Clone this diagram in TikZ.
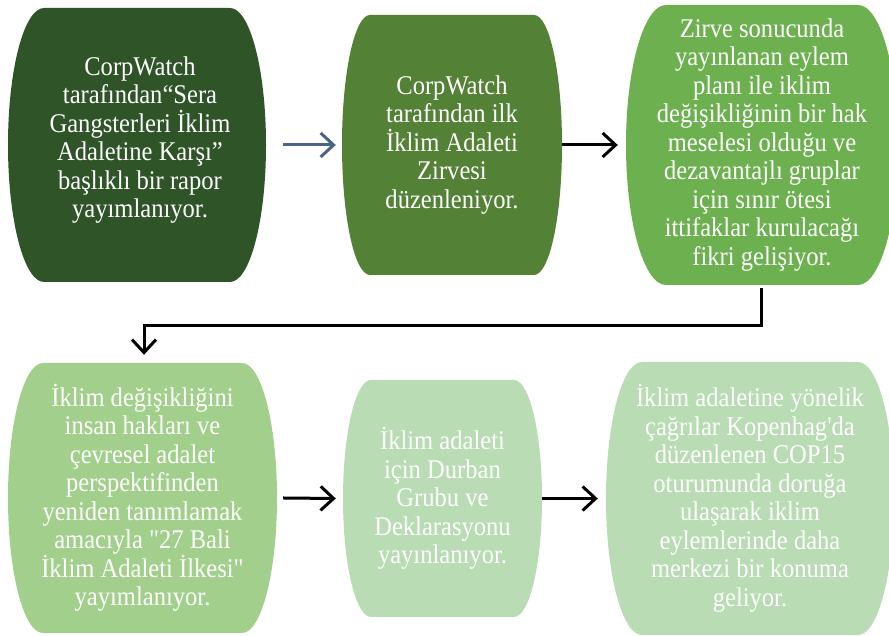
\documentclass[tikz,border=0pt]{standalone}
\usepackage{fontspec}
\newfontfamily\boxfont{Liberation Serif}[FakeStretch=0.91]
\usetikzlibrary{arrows.meta}
\definecolor{gA}{HTML}{2F5428}
\definecolor{gB}{HTML}{538135}
\definecolor{gC}{HTML}{6DB04F}
\definecolor{gD}{HTML}{A2D08C}
\definecolor{gE}{HTML}{B9DCB4}
\definecolor{slate}{HTML}{4C6388}
\newcommand\blobfill[6]{%
  \fill[#6] ({#1-#3/2+#5},{#2+#4/2}) -- ({#1+#3/2-#5},{#2+#4/2})
    arc[start angle=90, end angle=-90, x radius=#5pt, y radius=#4*0.5pt]
    -- ({#1-#3/2+#5},{#2-#4/2})
    arc[start angle=270, end angle=90, x radius=#5pt, y radius=#4*0.5pt]
    -- cycle;}
\tikzset{
  txt/.style={font=\boxfont\fontsize{27}{28.5}\selectfont, text=white, align=center, inner sep=0pt},
  arr/.style={line width=3pt, -{Straight Barb[length=13pt,width=24pt]}},
}
\begin{document}
\begin{tikzpicture}[x=1pt,y=1pt]
\useasboundingbox (0,0) rectangle (889,636);
\fill[white] (0,0) rectangle (889,636);
% shapes
\blobfill{137}{491}{258}{274}{36}{gA}
\blobfill{452}{491}{220}{260}{28}{gB}
\blobfill{762}{491}{272}{280}{40}{gC}
\blobfill{142.5}{138}{269}{270}{35}{gD}
\blobfill{442.5}{137.5}{199}{237}{28}{gE}
\blobfill{750}{137.5}{288}{273}{36}{gE}
% texts
\node[txt, minimum width=258pt, minimum height=274pt] (b1) at (140,496)
  {CorpWatch\\tarafından“Sera\\Gangsterleri İklim\\Adaletine Karşı”\\başlıklı bir rapor\\yayımlanıyor.};
\node[txt, minimum width=220pt, minimum height=260pt] (b2) at (452,491)
  {CorpWatch\\tarafından ilk\\İklim Adaleti\\Zirvesi\\düzenleniyor.};
\node[txt, minimum width=272pt, minimum height=280pt] (b3) at (762,491)
  {Zirve sonucunda\\yayınlanan eylem\\planı ile iklim\\değişikliğinin bir hak\\meselesi olduğu ve\\dezavantajlı gruplar\\için sınır ötesi\\ittifaklar kurulacağı\\fikri gelişiyor.};
\node[txt, minimum width=269pt, minimum height=270pt] (b4) at (142.5,138)
  {İklim değişikliğini\\insan hakları ve\\çevresel adalet\\perspektifinden\\yeniden tanımlamak\\amacıyla "27 Bali\\İklim Adaleti İlkesi"\\yayımlanıyor.};
\node[txt, minimum width=199pt, minimum height=237pt] (b5) at (442.5,137.5)
  {İklim adaleti\\için Durban\\Grubu ve\\Deklarasyonu\\yayınlanıyor.};
\node[txt, minimum width=288pt, minimum height=273pt] (b6) at (750,137.5)
  {İklim adaletine yönelik\\çağrılar Kopenhag'da\\düzenlenen COP15\\oturumunda doruğa\\ulaşarak iklim\\eylemlerinde daha\\merkezi bir konuma\\geliyor.};
% connectors
\draw[arr, slate] ([xshift=14pt]b1.east |- b2.east) -- ([xshift=-6pt]b2.west);
\draw[arr] (b2.east) -- ([xshift=-8pt]b3.west);
\coordinate (elb) at ([xshift=-1pt,yshift=-3pt]b3.south);
\draw[arr] (elb) -- ++(0,-37) -| ([xshift=1.5pt,yshift=8pt]b4.north);
\draw[arr] ([xshift=6pt]b4.east) -- ([xshift=-7pt]b5.west);
\draw[arr] (b5.east) -- ([xshift=-8pt]b6.west);
\end{tikzpicture}
\end{document}
